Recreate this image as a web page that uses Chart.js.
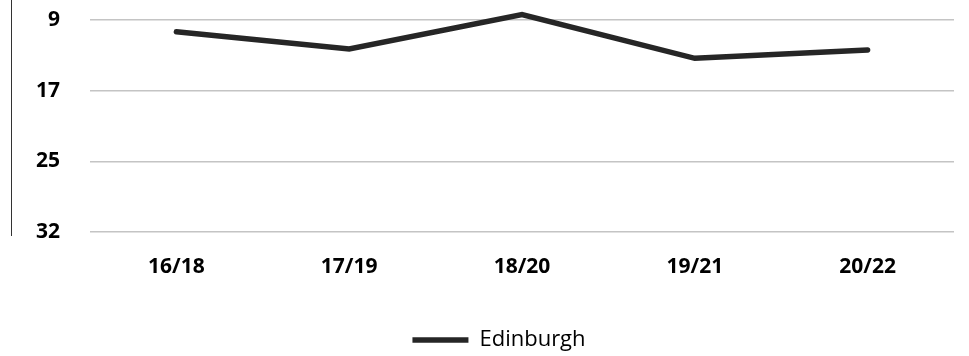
<!DOCTYPE html>
<html>
<head>
<meta charset="utf-8">
<script src="https://cdn.jsdelivr.net/npm/chart.js"></script>
<style>
  html, body { margin: 0; padding: 0; background: #fff; }
  #wrap { position: relative; width: 969px; height: 356px; }
  #edge { position: absolute; left: 11px; top: 0; width: 0; height: 236px; border-left: 1px solid #333; }
</style>
</head>
<body>
<div id="wrap">
  <canvas id="chart" width="969" height="356"></canvas>
  <div id="edge"></div>
</div>
<script>
const periods = ["16/18", "17/19", "18/20", "19/21", "20/22"]
const edinburgh = [10.35, 12.3, 8.4, 13.35, 12.4]
const tickValues = [9, 17, 25, 33]
const tickLabels = ["9", "17", "25", "32"]

// nudge the legend a bit to the right, like the original
const legendShift = {
  id: "legendShift",
  afterLayout(chart) {
    if (chart.legend) chart.legend.left += 44
  },
}

const ctx = document.getElementById("chart").getContext("2d")
new Chart(ctx, {
  type: "line",
  data: {
    labels: periods,
    datasets: [
      {
        label: "Edinburgh",
        data: edinburgh,
        borderColor: "#262626",
        backgroundColor: "#262626",
        borderWidth: 5.5,
        borderCapStyle: "round",
        borderJoinStyle: "miter",
        pointRadius: 0,
        pointStyle: "line",
        tension: 0,
      },
    ],
  },
  options: {
    responsive: false,
    animation: false,
    layout: { padding: { left: 0, right: 15, top: 0, bottom: -5 } },
    plugins: {
      legend: {
        position: "bottom",
        labels: {
          usePointStyle: true,
          pointStyleWidth: 56,
          color: "#000",
          padding: 5,
          font: { family: "'Open Sans'", size: 22 },
        },
      },
      tooltip: { enabled: false },
    },
    scales: {
      x: {
        offset: true,
        grid: { display: false, offset: true },
        border: { display: false },
        ticks: {
          color: "#000",
          padding: 14,
          maxRotation: 0,
          font: { family: "'Open Sans'", size: 21, weight: "bold" },
        },
        afterFit: (scale) => {
          scale.height = 92
          scale.paddingLeft = 0
          scale.paddingRight = 0
        },
      },
      y: {
        reverse: true,
        min: 6.75,
        max: 33,
        afterBuildTicks: (scale) => {
          scale.ticks = tickValues.map((v) => ({ value: v }))
        },
        grid: { color: "#c4c4c4", lineWidth: 1.5, drawTicks: false },
        border: { display: false },
        ticks: {
          color: "#000",
          padding: 30,
          font: { family: "'Open Sans'", size: 21, weight: "bold" },
          callback: (value) => tickLabels[tickValues.indexOf(value)],
        },
        afterFit: (scale) => {
          scale.width = 90
          scale.paddingTop = 0
          scale.paddingBottom = 0
        },
      },
    },
  },
  plugins: [legendShift],
})
</script>
</body>
</html>
